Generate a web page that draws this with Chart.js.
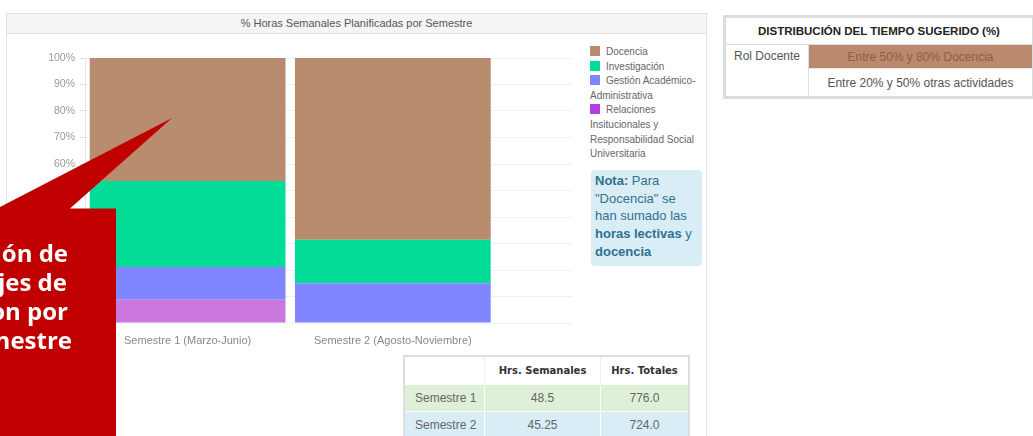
<!DOCTYPE html>
<html><head><meta charset="utf-8">
<script src="https://cdn.jsdelivr.net/npm/chart.js@4"></script>
<style>
body{margin:0;width:1033px;height:436px;overflow:hidden;background:#fff;font-family:"Liberation Sans",Arial,sans-serif;position:relative}
#panel{position:absolute;left:6px;top:13px;width:701px;height:440px;border:1px solid #e2e2e2;box-sizing:border-box}
#ph{height:19px;background:#f5f5f5;border-bottom:1px solid #e2e2e2;text-align:center;font-size:11px;color:#555;line-height:19px}
#cw{position:absolute;left:0;top:33px;width:585px;height:320px}
#legend{position:absolute;left:590px;top:45px;width:118px;font-size:10px;line-height:14.6px;color:#666}
.sw{display:inline-block;width:10px;height:10px;margin-right:6px;vertical-align:-1px}
#nota{position:absolute;left:591px;top:170px;width:104px;height:92px;padding:2px 3px 2px 4px;background:#d9edf7;border-radius:4px;color:#31708f;font-size:13px;line-height:17.7px}
#t2{position:absolute;left:403px;top:355px;border-collapse:collapse;border:2px solid #dedede;font-size:12px;color:#666}
#t2 th{font-family:"DejaVu Sans",sans-serif;font-weight:bold;font-size:10px;color:#333;height:25px;background:#fff;border-left:1px solid #eee}
#t2 td{height:24px;text-align:center;border-left:1px solid #fff;border-top:1px solid #fff}
#t2 td:first-child{text-align:left;padding-left:10px}
#t1{position:absolute;left:723px;top:15px;width:312px;border-collapse:collapse;border:3px solid #dcdcdc;font-size:12px;color:#555}
#t1 th{height:24px;font-size:11.5px;color:#222;font-weight:bold;border-bottom:1px solid #ddd}
#t1 td{text-align:center}
#callout{position:absolute;left:0;top:0}
.cl{position:absolute;font-family:"Open Sans",sans-serif;font-weight:700;font-size:24px;color:#fff;white-space:nowrap;line-height:29px}
</style></head>
<body>
<div id="panel"><div id="ph">% Horas Semanales Planificadas por Semestre</div></div>
<div id="cw"><canvas id="c" width="585" height="320"></canvas></div>
<div id="legend"></div>
<div id="nota"><b>Nota:</b> Para "Docencia" se han sumado las <b>horas lectivas</b> y <b>docencia</b></div>
<table id="t2"></table>
<table id="t1">
<tr><th colspan="2">DISTRIBUCIÓN DEL TIEMPO SUGERIDO (%)</th></tr>
<tr><td rowspan="2" style="vertical-align:top;width:80px;height:21px;line-height:21px;border-right:1px solid #ddd">Rol Docente</td><td style="background:#b98a6e;color:#9a5a3a;height:21px">Entre 50% y 80% Docencia</td></tr>
<tr><td style="height:25px;border-top:1px solid #e6e6e6">Entre 20% y 50% otras actividades</td></tr>
</table>
<svg id="callout" width="200" height="436"><polygon points="0,207 172,118 70,208.5 116,208.5 116,436 0,436" fill="#c00000"/></svg>
<div class="cl" style="right:965px;top:238px">ón de</div>
<div class="cl" style="right:966px;top:267px">jes de</div>
<div class="cl" style="right:965px;top:296px">on por</div>
<div class="cl" style="right:961px;top:325px">nestre</div>
<script>
const categories = ['Semestre 1 (Marzo-Junio)', 'Semestre 2 (Agosto-Noviembre)'];
const seriesNames = ['Docencia', 'Investigación', 'Gestión Académico-Administrativa', 'Relaciones Insitucionales y Responsabilidad Social Universitaria'];
const docencia = [46.4, 68.6];
const investigacion = [32.5, 16.4];
const gestion = [12.3, 15.0];
const relaciones = [8.8, 0];
const yTickValues = [0, 10, 20, 30, 40, 50, 60, 70, 80, 90, 100];
const tableRows = ['Semestre 1', 'Semestre 2'];
const hrsSemanales = ['48.5', '45.25'];
const hrsTotales = ['776.0', '724.0'];

const barColors = ['#b98b6f', '#03dc96', '#8086ff', '#cb77e0'];
const legendColors = ['#b98b6f', '#03dc96', '#8086ff', '#b23ee0'];
const seriesData = [docencia, investigacion, gestion, relaciones];

// legend
document.getElementById('legend').innerHTML = seriesNames.map((n, i) =>
  '<div><span class="sw" style="background:' + legendColors[i] + '"></span>' + n + '</div>').join('');

// bottom table
let h = '<tr><th style="width:77px;border-left:none"></th><th style="width:113px">Hrs. Semanales</th><th style="width:85px">Hrs. Totales</th></tr>';
tableRows.forEach((r, i) => {
  h += '<tr style="background:' + (i === 0 ? '#dff0d8' : '#d9edf7') + '"><td>' + r + '</td><td>' + hrsSemanales[i] + '</td><td>' + hrsTotales[i] + '</td></tr>';
});
document.getElementById('t2').innerHTML = h;

// stacked bottom-up: last series at the bottom, Docencia on top
const order = [3, 2, 1, 0];
new Chart(document.getElementById('c'), {
  type: 'bar',
  data: {
    datasets: order.map(i => ({
      label: seriesNames[i],
      data: seriesData[i].map((v, k) => ({x: k, y: v})),
      backgroundColor: barColors[i],
      borderWidth: 0,
      barPercentage: 0.954,
      categoryPercentage: 1
    }))
  },
  options: {
    responsive: false,
    animation: false,
    events: [],
    layout: {padding: {left: 0, right: 12, top: 25, bottom: 0}},
    plugins: {legend: {display: false}, tooltip: {enabled: false}, title: {display: false}},
    scales: {
      x: {
        type: 'linear', min: -0.5, max: 1.878, stacked: true, offset: false,
        grid: {display: false}, border: {display: false},
        afterBuildTicks: s => { s.ticks = categories.map((c, i) => ({value: i})); },
        afterFit: s => { s.height = 30; },
        ticks: {callback: v => categories[v], color: '#888', font: {size: 11, family: '"Liberation Sans", Arial'}, padding: 3, maxRotation: 0, autoSkip: false}
      },
      y: {
        min: 0, max: 100, stacked: true,
        afterBuildTicks: s => { s.ticks = yTickValues.map(v => ({value: v})); },
        afterFit: s => { s.width = 85; },
        grid: {color: 'rgba(0,0,0,0.06)', tickLength: 5, tickColor: '#ddd'},
        border: {display: true, color: '#e6e6e6'},
        ticks: {callback: v => v + '%', color: '#999', font: {size: 10.5, family: '"Liberation Sans", Arial'}, padding: 5}
      }
    }
  }
});
</script>
</body></html>
